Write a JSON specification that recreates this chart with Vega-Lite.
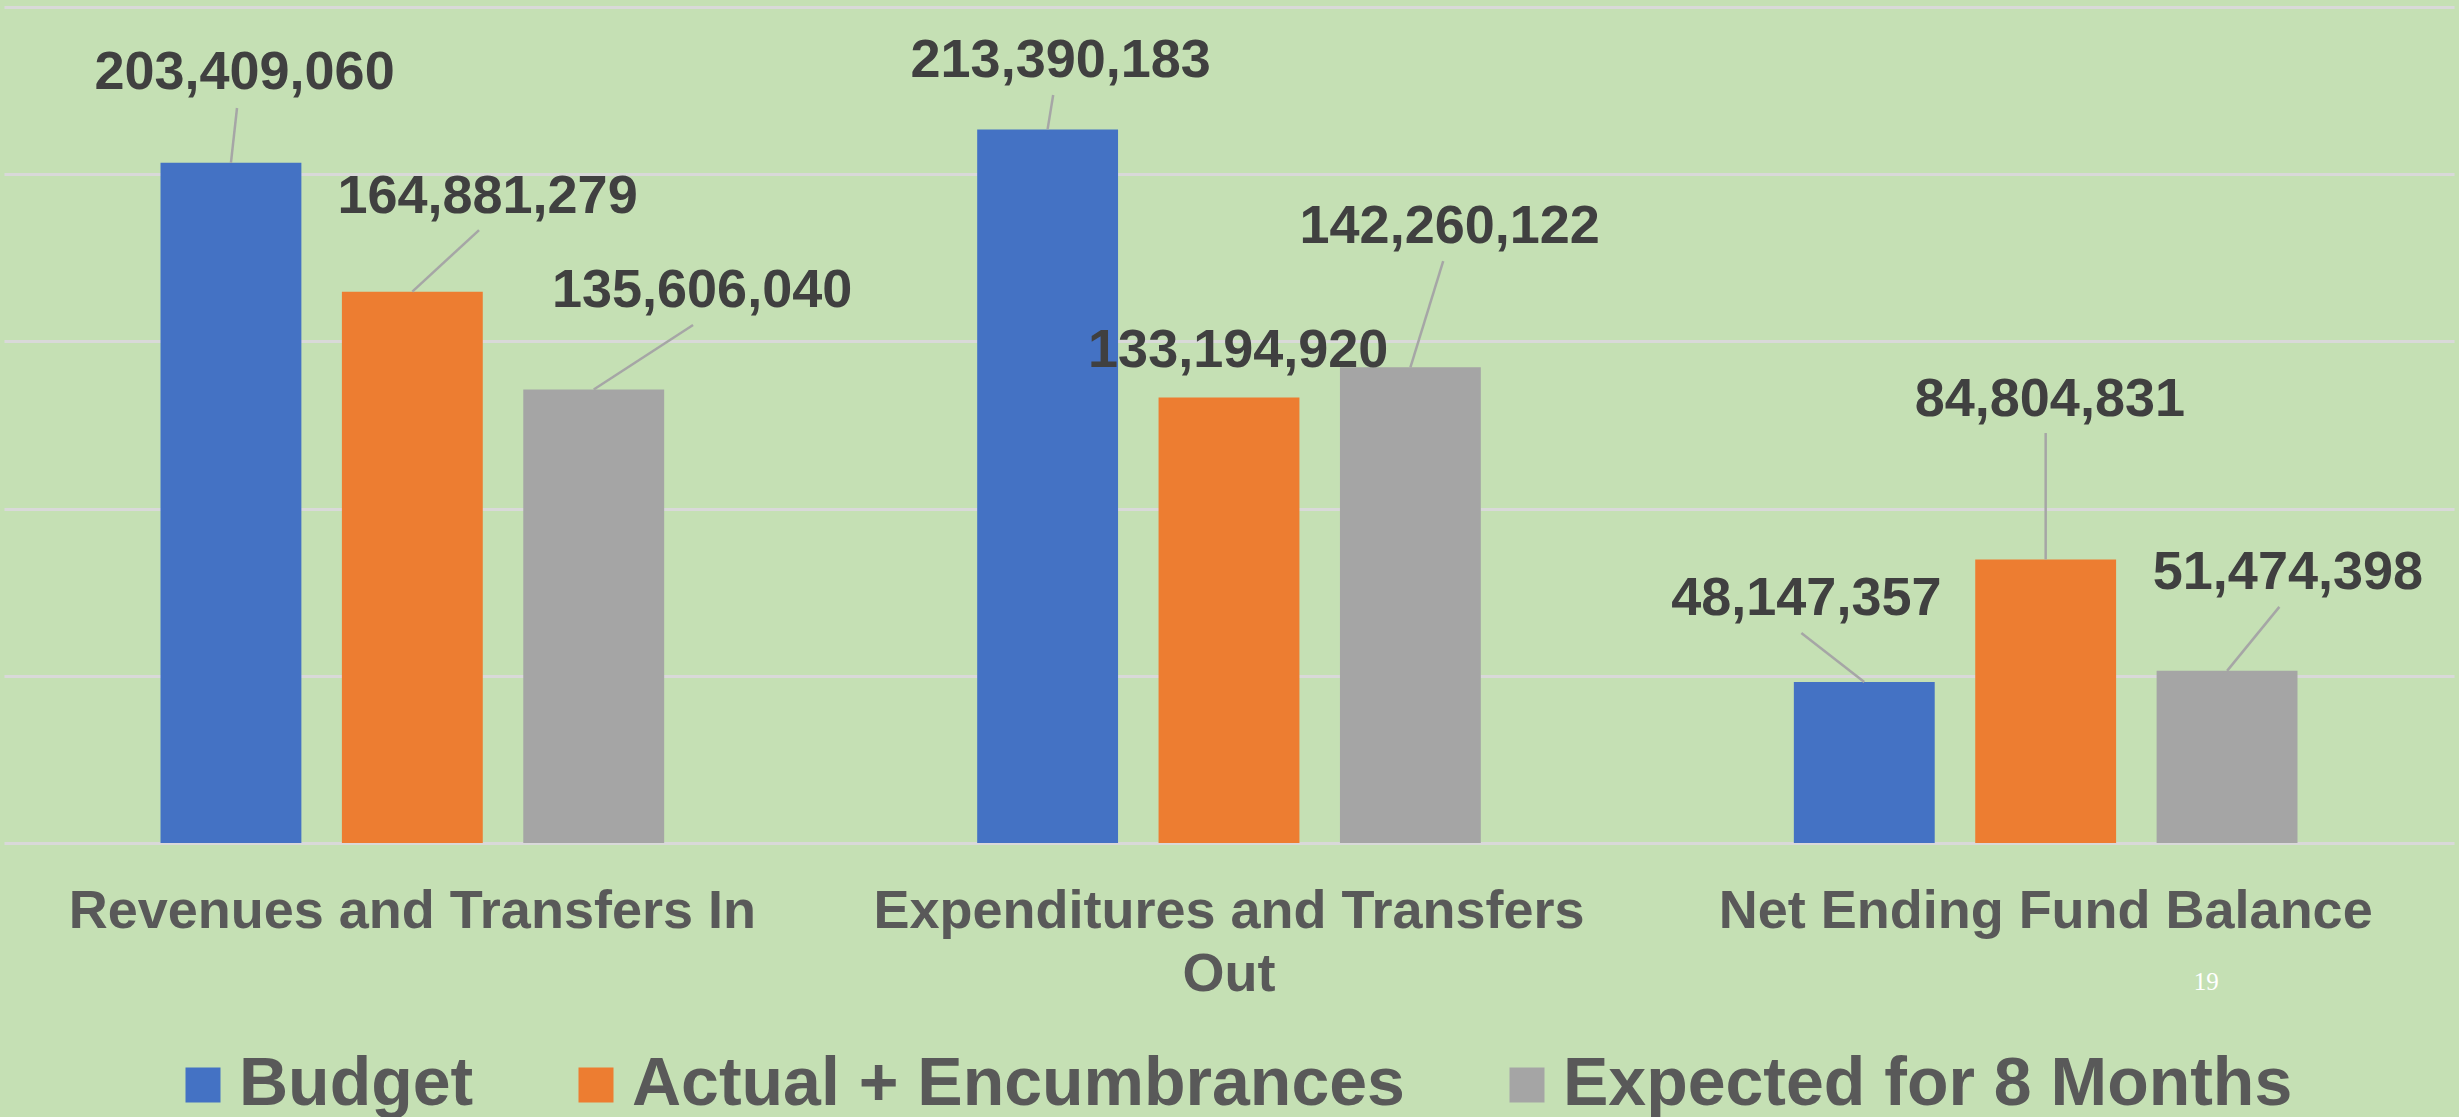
{
  "$schema": "https://vega.github.io/schema/vega-lite/v6.json",
  "width": 2450,
  "height": 836,
  "padding": {"left": 4, "top": 7, "right": 5, "bottom": 0},
  "background": "#C5E0B4",
  "config": {"view": {"stroke": null}},
  "data": {"values": [
    {"category": "Revenues and Transfers In", "series": "Budget", "value": 203409060},
    {"category": "Revenues and Transfers In", "series": "Actual + Encumbrances", "value": 164881279},
    {"category": "Revenues and Transfers In", "series": "Expected for 8 Months", "value": 135606040},
    {"category": "Expenditures and Transfers Out", "series": "Budget", "value": 213390183},
    {"category": "Expenditures and Transfers Out", "series": "Actual + Encumbrances", "value": 133194920},
    {"category": "Expenditures and Transfers Out", "series": "Expected for 8 Months", "value": 142260122},
    {"category": "Net Ending Fund Balance", "series": "Budget", "value": 48147357},
    {"category": "Net Ending Fund Balance", "series": "Actual + Encumbrances", "value": 84804831},
    {"category": "Net Ending Fund Balance", "series": "Expected for 8 Months", "value": 51474398}
  ]},
  "layer": [
    {
      "mark": {"type": "bar"},
      "encoding": {
        "x": {"field": "category", "type": "nominal", "title": null,
          "scale": {"domain": ["Revenues and Transfers In", "Expenditures and Transfers Out", "Net Ending Fund Balance"], "paddingInner": 0.3833, "paddingOuter": 0.19165},
          "axis": {"domain": false, "ticks": false, "grid": false, "labelAngle": 0, "labelFont": "Liberation Sans", "labelFontSize": 54, "labelFontWeight": "bold", "labelColor": "#595959", "labelPadding": 84, "labelBaseline": "alphabetic", "labelLineHeight": 63, "labelLimit": 3000, "labelExpr": "datum.value == 'Expenditures and Transfers Out' ? ['Expenditures and Transfers', 'Out'] : datum.label"}},
        "xOffset": {"field": "series", "type": "nominal", "sort": ["Budget", "Actual + Encumbrances", "Expected for 8 Months"], "scale": {"paddingInner": 0.2234, "paddingOuter": 0}},
        "y": {"field": "value", "type": "quantitative", "title": null,
          "scale": {"domain": [0, 250000000], "nice": false},
          "axis": {"labels": false, "ticks": false, "domain": false, "grid": true, "gridColor": "#D9D9D9", "gridWidth": 3, "values": [0, 50000000, 100000000, 150000000, 200000000, 250000000]}},
        "color": {"field": "series", "type": "nominal", "sort": ["Budget", "Actual + Encumbrances", "Expected for 8 Months"],
          "scale": {"domain": ["Budget", "Actual + Encumbrances", "Expected for 8 Months"], "range": ["#4472C4", "#ED7D31", "#A5A5A5"]},
          "legend": {"orient": "none", "legendX": 165, "legendY": 1044, "direction": "horizontal", "title": null, "symbolType": "square", "symbolSize": 1225, "symbolStrokeWidth": 0, "labelFont": "Liberation Sans", "labelFontSize": 68, "labelFontWeight": "bold", "labelColor": "#595959", "labelOffset": 2, "columnPadding": 88, "labelLimit": 3000}}
      }
    },
    {
      "transform": [{"filter": "datum.category == 'Revenues and Transfers In' && datum.series == 'Budget'"}],
      "layer": [
        {"mark": {"type": "text", "font": "Liberation Sans", "fontSize": 54, "fontWeight": "bold", "color": "#404040", "align": "center", "baseline": "alphabetic"},
         "encoding": {"x": {"field": "category", "type": "nominal", "bandPosition": 0.1668, "title": null}, "y": {"datum": 225480000, "type": "quantitative", "title": null}, "text": {"field": "value", "type": "quantitative", "format": ",d"}}},
        {"mark": {"type": "rule", "color": "#A6A6A6", "strokeWidth": 2.5},
         "encoding": {"x": {"field": "category", "type": "nominal", "bandPosition": 0.1398, "title": null}, "x2": {"field": "category", "bandPosition": 0.1519}, "y": {"field": "value", "type": "quantitative", "title": null}, "y2": {"datum": 219800000}}}
      ]
    },
    {
      "transform": [{"filter": "datum.category == 'Revenues and Transfers In' && datum.series == 'Actual + Encumbrances'"}],
      "layer": [
        {"mark": {"type": "text", "font": "Liberation Sans", "fontSize": 54, "fontWeight": "bold", "color": "#404040", "align": "center", "baseline": "alphabetic"},
         "encoding": {"x": {"field": "category", "type": "nominal", "bandPosition": 0.6493, "title": null}, "y": {"datum": 188400000, "type": "quantitative", "title": null}, "text": {"field": "value", "type": "quantitative", "format": ",d"}}},
        {"mark": {"type": "rule", "color": "#A6A6A6", "strokeWidth": 2.5},
         "encoding": {"x": {"field": "category", "type": "nominal", "bandPosition": 0.5, "title": null}, "x2": {"field": "category", "bandPosition": 0.6325}, "y": {"field": "value", "type": "quantitative", "title": null}, "y2": {"datum": 183300000}}}
      ]
    },
    {
      "transform": [{"filter": "datum.category == 'Revenues and Transfers In' && datum.series == 'Expected for 8 Months'"}],
      "layer": [
        {"mark": {"type": "text", "font": "Liberation Sans", "fontSize": 54, "fontWeight": "bold", "color": "#404040", "align": "center", "baseline": "alphabetic"},
         "encoding": {"x": {"field": "category", "type": "nominal", "bandPosition": 1.0753, "title": null}, "y": {"datum": 160300000, "type": "quantitative", "title": null}, "text": {"field": "value", "type": "quantitative", "format": ",d"}}},
        {"mark": {"type": "rule", "color": "#A6A6A6", "strokeWidth": 2.5},
         "encoding": {"x": {"field": "category", "type": "nominal", "bandPosition": 0.8602, "title": null}, "x2": {"field": "category", "bandPosition": 1.0574}, "y": {"field": "value", "type": "quantitative", "title": null}, "y2": {"datum": 154900000}}}
      ]
    },
    {
      "transform": [{"filter": "datum.category == 'Expenditures and Transfers Out' && datum.series == 'Budget'"}],
      "layer": [
        {"mark": {"type": "text", "font": "Liberation Sans", "fontSize": 54, "fontWeight": "bold", "color": "#404040", "align": "center", "baseline": "alphabetic"},
         "encoding": {"x": {"field": "category", "type": "nominal", "bandPosition": 0.1658, "title": null}, "y": {"datum": 229100000, "type": "quantitative", "title": null}, "text": {"field": "value", "type": "quantitative", "format": ",d"}}},
        {"mark": {"type": "rule", "color": "#A6A6A6", "strokeWidth": 2.5},
         "encoding": {"x": {"field": "category", "type": "nominal", "bandPosition": 0.1398, "title": null}, "x2": {"field": "category", "bandPosition": 0.1509}, "y": {"field": "value", "type": "quantitative", "title": null}, "y2": {"datum": 223700000}}}
      ]
    },
    {
      "transform": [{"filter": "datum.category == 'Expenditures and Transfers Out' && datum.series == 'Actual + Encumbrances'"}],
      "mark": {"type": "text", "font": "Liberation Sans", "fontSize": 54, "fontWeight": "bold", "color": "#404040", "align": "center", "baseline": "alphabetic"},
      "encoding": {"x": {"field": "category", "type": "nominal", "bandPosition": 0.5183, "title": null}, "y": {"datum": 142300000, "type": "quantitative", "title": null}, "text": {"field": "value", "type": "quantitative", "format": ",d"}}
    },
    {
      "transform": [{"filter": "datum.category == 'Expenditures and Transfers Out' && datum.series == 'Expected for 8 Months'"}],
      "layer": [
        {"mark": {"type": "text", "font": "Liberation Sans", "fontSize": 54, "fontWeight": "bold", "color": "#404040", "align": "center", "baseline": "alphabetic"},
         "encoding": {"x": {"field": "category", "type": "nominal", "bandPosition": 0.9382, "title": null}, "y": {"datum": 179400000, "type": "quantitative", "title": null}, "text": {"field": "value", "type": "quantitative", "format": ",d"}}},
        {"mark": {"type": "rule", "color": "#A6A6A6", "strokeWidth": 2.5},
         "encoding": {"x": {"field": "category", "type": "nominal", "bandPosition": 0.8602, "title": null}, "x2": {"field": "category", "bandPosition": 0.9253}, "y": {"field": "value", "type": "quantitative", "title": null}, "y2": {"datum": 174000000}}}
      ]
    },
    {
      "transform": [{"filter": "datum.category == 'Net Ending Fund Balance' && datum.series == 'Budget'"}],
      "layer": [
        {"mark": {"type": "text", "font": "Liberation Sans", "fontSize": 54, "fontWeight": "bold", "color": "#404040", "align": "center", "baseline": "alphabetic"},
         "encoding": {"x": {"field": "category", "type": "nominal", "bandPosition": 0.0248, "title": null}, "y": {"datum": 68200000, "type": "quantitative", "title": null}, "text": {"field": "value", "type": "quantitative", "format": ",d"}}},
        {"mark": {"type": "rule", "color": "#A6A6A6", "strokeWidth": 2.5},
         "encoding": {"x": {"field": "category", "type": "nominal", "bandPosition": 0.1398, "title": null}, "x2": {"field": "category", "bandPosition": 0.0149}, "y": {"field": "value", "type": "quantitative", "title": null}, "y2": {"datum": 62800000}}}
      ]
    },
    {
      "transform": [{"filter": "datum.category == 'Net Ending Fund Balance' && datum.series == 'Actual + Encumbrances'"}],
      "layer": [
        {"mark": {"type": "text", "font": "Liberation Sans", "fontSize": 54, "fontWeight": "bold", "color": "#404040", "align": "center", "baseline": "alphabetic"},
         "encoding": {"x": {"field": "category", "type": "nominal", "bandPosition": 0.5083, "title": null}, "y": {"datum": 127700000, "type": "quantitative", "title": null}, "text": {"field": "value", "type": "quantitative", "format": ",d"}}},
        {"mark": {"type": "rule", "color": "#A6A6A6", "strokeWidth": 2.5},
         "encoding": {"x": {"field": "category", "type": "nominal", "bandPosition": 0.5, "title": null}, "x2": {"field": "category", "bandPosition": 0.5}, "y": {"field": "value", "type": "quantitative", "title": null}, "y2": {"datum": 122600000}}}
      ]
    },
    {
      "transform": [{"filter": "datum.category == 'Net Ending Fund Balance' && datum.series == 'Expected for 8 Months'"}],
      "layer": [
        {"mark": {"type": "text", "font": "Liberation Sans", "fontSize": 54, "fontWeight": "bold", "color": "#404040", "align": "center", "baseline": "alphabetic"},
         "encoding": {"x": {"field": "category", "type": "nominal", "bandPosition": 0.981, "title": null}, "y": {"datum": 75960000, "type": "quantitative", "title": null}, "text": {"field": "value", "type": "quantitative", "format": ",d"}}},
        {"mark": {"type": "rule", "color": "#A6A6A6", "strokeWidth": 2.5},
         "encoding": {"x": {"field": "category", "type": "nominal", "bandPosition": 0.8602, "title": null}, "x2": {"field": "category", "bandPosition": 0.964}, "y": {"field": "value", "type": "quantitative", "title": null}, "y2": {"datum": 70600000}}}
      ]
    },
    {
      "data": {"values": [{"page": "19"}]},
      "mark": {"type": "text", "font": "Liberation Serif", "fontSize": 25, "color": "#FFFFFF", "align": "center", "baseline": "alphabetic"},
      "encoding": {"x": {"datum": "Net Ending Fund Balance", "type": "nominal", "bandPosition": 0.819, "title": null}, "y": {"datum": -44000000, "type": "quantitative", "title": null}, "text": {"field": "page", "type": "nominal"}}
    }
  ]
}
